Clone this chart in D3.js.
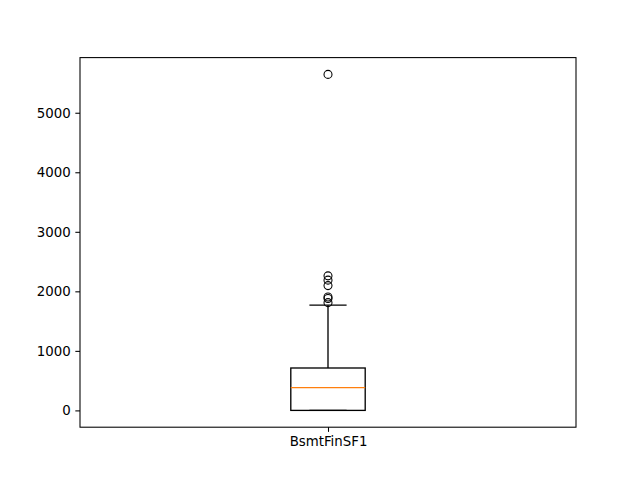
<!DOCTYPE html>
<html><head><meta charset="utf-8">
<script src="https://cdn.jsdelivr.net/npm/d3@7"></script>
<style>body{margin:0;background:#fff}</style>
</head><body>
<svg id="c" width="640" height="480"></svg>
<script>
const categories = ["BsmtFinSF1"];
const q1 = [0];
const medians = [383.5];
const q3 = [712.25];
const whiskerLow = [0];
const whiskerHigh = [1767];
const fliers = [[1810, 1880, 1904, 2096, 2188, 2260, 5644]];
const yTicks = [0, 1000, 2000, 3000, 4000, 5000];

const svg = d3.select("#c");
const L = 80, R = 576, T = 57.6, B = 427.2;
const allMin = 0, allMax = 5644;
const pad = (allMax - allMin) * 0.05;
const y = d3.scaleLinear().domain([allMin - pad, allMax + pad]).range([B, T]);
const x = d3.scaleLinear().domain([0.5, 1.5]).range([L, R]);
const font = "DejaVu Sans, sans-serif";

const yAxis = svg.append("g").attr("transform", `translate(${L},0)`)
  .call(d3.axisLeft(y).tickValues(yTicks).tickFormat(d3.format("d")).tickSizeOuter(0).tickSize(4.67).tickPadding(4.7));
yAxis.select(".domain").remove();
yAxis.selectAll("line").attr("stroke", "#000").attr("stroke-width", 1.07);
yAxis.selectAll("text").attr("font-family", font).attr("font-size", "13.33px").attr("fill", "#000");

const xAxis = svg.append("g").attr("transform", `translate(0,${B})`)
  .call(d3.axisBottom(x).tickValues([1]).tickFormat((d, i) => categories[i]).tickSizeOuter(0).tickSize(4.67).tickPadding(4.7));
xAxis.select(".domain").remove();
xAxis.selectAll("line").attr("stroke", "#000").attr("stroke-width", 1.07);
xAxis.selectAll("text").attr("font-family", font).attr("font-size", "13.33px").attr("fill", "#000");

const boxW = 0.15;
categories.forEach((c, i) => {
  const p = i + 1;
  const g = svg.append("g").attr("stroke-width", 1.33).attr("fill", "none");
  // whiskers
  g.append("line").attr("x1", x(p)).attr("x2", x(p)).attr("y1", y(q3[i])).attr("y2", y(whiskerHigh[i])).attr("stroke", "#000");
  g.append("line").attr("x1", x(p)).attr("x2", x(p)).attr("y1", y(q1[i])).attr("y2", y(whiskerLow[i])).attr("stroke", "#000");
  // caps
  g.append("line").attr("x1", x(p - boxW / 4)).attr("x2", x(p + boxW / 4)).attr("y1", y(whiskerHigh[i])).attr("y2", y(whiskerHigh[i])).attr("stroke", "#000");
  g.append("line").attr("x1", x(p - boxW / 4)).attr("x2", x(p + boxW / 4)).attr("y1", y(whiskerLow[i])).attr("y2", y(whiskerLow[i])).attr("stroke", "#000");
  // box
  g.append("rect").attr("x", x(p - boxW / 2)).attr("width", x(p + boxW / 2) - x(p - boxW / 2))
    .attr("y", y(q3[i])).attr("height", y(q1[i]) - y(q3[i])).attr("stroke", "#000");
  // median
  g.append("line").attr("x1", x(p - boxW / 2)).attr("x2", x(p + boxW / 2)).attr("y1", y(medians[i])).attr("y2", y(medians[i])).attr("stroke", "#ff7f0e");
  // fliers
  g.selectAll("circle.f" + i).data(fliers[i]).enter().append("circle")
    .attr("cx", x(p)).attr("cy", d => y(d)).attr("r", 4).attr("stroke", "#000").attr("stroke-width", 1.07).attr("fill", "none");
});

svg.append("rect").attr("x", L).attr("y", T).attr("width", R - L).attr("height", B - T)
  .attr("fill", "none").attr("stroke", "#000").attr("stroke-width", 1.07);
</script>
</body></html>
